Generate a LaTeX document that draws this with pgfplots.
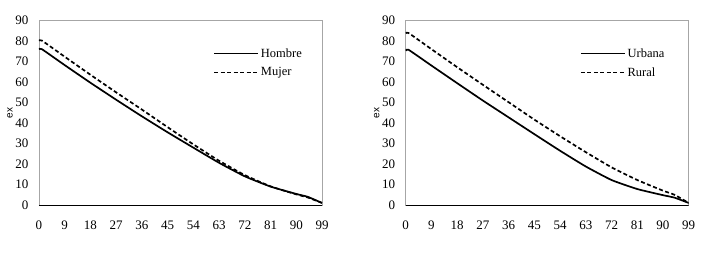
\documentclass[border=0pt]{standalone}
\usepackage{fontspec}
\setmainfont{Liberation Serif}
\newfontfamily\arial{Liberation Sans}
\usepackage{pgfplots}
\pgfplotsset{compat=1.18}
\pgfplotsset{legend image code/.code={\draw[#1] (0pt,0pt) -- (44pt,0pt);}}
\begin{document}
\begin{tikzpicture}
\useasboundingbox (0pt,0pt) rectangle (701pt,252pt);
\pgfplotsset{
  myax/.style={
    scale only axis, width=283pt, height=184.3pt,
    xmin=0, xmax=99, ymin=0, ymax=90,
    xtick={0,9,...,99}, ytick={0,10,...,90},
    major tick length=0pt,
    axis line style={draw=gray!70, line width=0.6pt},
    tick label style={font=\fontsize{13}{15}\selectfont},
    /pgf/number format/assume math mode=true,
    xticklabel style={yshift=-12pt},
    yticklabel style={xshift=-7pt},
    ylabel={\arial\fontsize{10}{12}\selectfont ex},
    ylabel style={at={(rel axis cs:0,0.5)}, anchor=center, yshift=29pt},
    legend style={draw=none, fill=none, at={(0.615,0.862)}, anchor=north west,
      inner sep=0pt, font=\fontsize{12.5}{14}\selectfont, row sep=5pt,
      nodes={inner sep=2pt}},
    legend cell align=left,
  },
  solidl/.style={black, line width=1.7pt, smooth, tension=0.3},
  dashl/.style={black, line width=1.7pt, dash pattern=on 4pt off 2.5pt, smooth, tension=0.3},
}
\begin{axis}[myax, at={(39pt,47pt)}, anchor=south west]
\addplot[solidl] coordinates {(0,76.0) (1,76.1) (9,68.3) (18,59.7) (27,51.4) (36,43.3) (45,35.5) (54,28.0) (63,20.6) (72,14.0) (81,9.0) (90,5.4) (94,4.0) (99,1.0)};
\addlegendentry{Hombre}
\addplot[dashl] coordinates {(0,80.2) (1,80.3) (9,72.4) (18,63.6) (27,55.0) (36,46.6) (45,38.0) (54,29.6) (63,21.6) (72,14.6) (81,9.1) (90,5.2) (94,3.7) (99,1.0)};
\addlegendentry{Mujer}
\draw[black, line width=0.8pt] (rel axis cs:0,0) -- (rel axis cs:1,0);
\end{axis}
\begin{axis}[myax, at={(405.7pt,47pt)}, anchor=south west]
\addplot[solidl] coordinates {(0,75.3) (1,75.8) (9,68.1) (18,59.5) (27,51.0) (36,42.8) (45,34.6) (54,26.5) (63,18.8) (72,12.2) (81,7.8) (90,4.8) (94,3.6) (99,1.0)};
\addlegendentry{Urbana}
\addplot[dashl] coordinates {(0,83.8) (1,84.0) (9,76.1) (18,67.3) (27,58.7) (36,50.2) (45,41.7) (54,33.6) (63,25.8) (72,18.4) (81,12.2) (90,7.0) (94,5.0) (99,1.0)};
\addlegendentry{Rural}
\draw[black, line width=0.8pt] (rel axis cs:0,0) -- (rel axis cs:1,0);
\end{axis}
\end{tikzpicture}
\end{document}
